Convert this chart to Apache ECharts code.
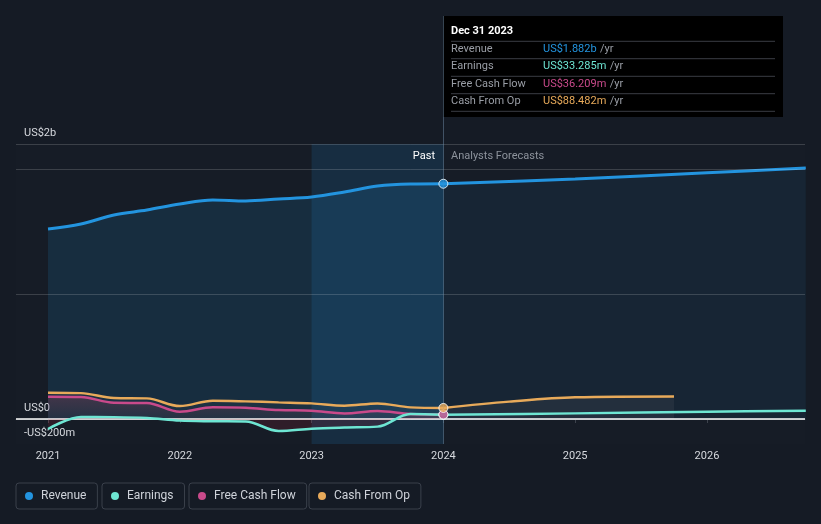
<!DOCTYPE html>
<html>
<head>
<meta charset="utf-8">
<script src="https://cdn.jsdelivr.net/npm/echarts@6/dist/echarts.min.js"></script>
<style>
html,body{margin:0;padding:0;background:#151b25;}
#c{width:821px;height:524px;}
</style>
</head>
<body>
<div id="c"></div>
<script>
// ---- data (values in US$ billions, x in decimal years) ----
var pastYears      = [2021.0, 2021.25, 2021.5, 2021.75, 2022.0, 2022.25, 2022.5, 2022.75, 2023.0, 2023.25, 2023.5, 2023.75, 2024.0];
var revenuePast    = [1.520, 1.560, 1.632, 1.672, 1.720, 1.752, 1.744, 1.760, 1.776, 1.816, 1.864, 1.880, 1.882];
var earningsPast   = [-0.080, 0.016, 0.015, 0.008, -0.013, -0.018, -0.020, -0.096, -0.078, -0.068, -0.061, 0.040, 0.033285];
var fcfPast        = [0.178, 0.176, 0.130, 0.128, 0.058, 0.094, 0.090, 0.072, 0.066, 0.045, 0.064, 0.040, 0.036209];
var cfoPast        = [0.211, 0.207, 0.168, 0.165, 0.104, 0.146, 0.141, 0.133, 0.125, 0.107, 0.125, 0.093, 0.088482];

var fcstYears      = [2024.0, 2025.0, 2026.0, 2026.75];
var revenueFcst    = [1.882, 1.920, 1.970, 2.008];
var earningsFcst   = [0.033285, 0.045, 0.058, 0.066];
var cfoFcstYears   = [2024.0, 2024.5, 2025.0, 2025.75];
var cfoFcst        = [0.088482, 0.139, 0.174, 0.181];

var xTicks         = [2021, 2022, 2023, 2024, 2025, 2026];
var yLabelValues   = [-0.2, 0, 2.2];
var yLabelTexts    = ['-US$200m', 'US$0', 'US$2b'];
var gridValues     = [2.2, 2.0, 1.0];
var pastBand       = [2023, 2024];

var tipTitle  = 'Dec 31 2023';
var tipLabels = ['Revenue', 'Earnings', 'Free Cash Flow', 'Cash From Op'];
var tipValues = ['US$1.882b', 'US$33.285m', 'US$36.209m', 'US$88.482m'];

var C = {rev:'#2394df', earn:'#6ee6d3', fcf:'#c94a8b', cfo:'#e8aa5a'};
var FONT = 'Roboto, "Noto Sans", sans-serif';

function pairs(xs, ys){ return xs.map(function(x,i){ return [x, ys[i]]; }); }
function last(xs, ys){ return [[xs[xs.length-1], ys[ys.length-1]]]; }

var chart = echarts.init(document.getElementById('c'), null, {renderer:'canvas'});

var series = [
  // helper: band, gridlines, crosshair
  { type:'line', data:[], silent:true, z:1,
    markArea:{ silent:true, itemStyle:{color:'rgba(35,148,223,0.15)'},
      data:[[{xAxis:pastBand[0]},{xAxis:pastBand[1]}]] },
    markLine:{ silent:true, symbol:'none', label:{show:false},
      data: gridValues.map(function(v){ return {yAxis:v, lineStyle:{color:'rgba(255,255,255,0.16)', width:1, type:'solid'}}; })
        .concat([{xAxis:pastBand[1], lineStyle:{color:'rgba(120,150,180,0.45)', width:1, type:'solid'}}])
    }
  },
  { name:'Revenue', type:'line', data:pairs(pastYears, revenuePast), smooth:0.35, symbol:'none', z:3,
    lineStyle:{color:C.rev, width:3}, itemStyle:{color:C.rev},
    areaStyle:{color:'rgba(35,148,223,0.2)', origin:0} },
  { name:'Revenue', type:'line', data:pairs(fcstYears, revenueFcst), smooth:0.35, symbol:'none', z:3,
    lineStyle:{color:C.rev, width:3}, itemStyle:{color:C.rev},
    areaStyle:{color:'rgba(35,148,223,0.11)', origin:0} },
  { name:'Cash From Op', type:'line', data:pairs(pastYears, cfoPast), smooth:0.35, symbol:'none', z:4,
    lineStyle:{color:C.cfo, width:2.5}, itemStyle:{color:C.cfo},
    areaStyle:{color:'rgba(120,120,120,0.10)', origin:0} },
  { name:'Cash From Op', type:'line', data:pairs(cfoFcstYears, cfoFcst), smooth:0.35, symbol:'none', z:4,
    lineStyle:{color:C.cfo, width:2.5}, itemStyle:{color:C.cfo},
    areaStyle:{color:'rgba(130,130,130,0.16)', origin:0} },
  { name:'Free Cash Flow', type:'line', data:pairs(pastYears, fcfPast), smooth:0.35, symbol:'none', z:5,
    lineStyle:{color:C.fcf, width:2.5}, itemStyle:{color:C.fcf},
    areaStyle:{origin:0, color:new echarts.graphic.LinearGradient(0,0,0,1,[
      {offset:0,color:'rgba(200,70,100,0.30)'},{offset:1,color:'rgba(200,70,100,0.06)'}])} },
  { name:'Earnings', type:'line', data:pairs(pastYears, earningsPast), smooth:0.35, symbol:'none', z:6,
    lineStyle:{color:C.earn, width:2.5}, itemStyle:{color:C.earn},
    areaStyle:{color:'rgba(220,40,60,0.18)', origin:0} },
  { name:'Earnings', type:'line', data:pairs(fcstYears, earningsFcst), smooth:0.35, symbol:'none', z:6,
    lineStyle:{color:C.earn, width:2.5}, itemStyle:{color:C.earn} },
  // zero line
  { type:'line', data:[], silent:true, z:7,
    markLine:{ silent:true, symbol:'none', label:{show:false},
      data:[{yAxis:0, lineStyle:{color:'#ffffff', width:1.5, type:'solid'}}] } },
  // highlighted points at the cursor date
  { name:'Earnings', type:'scatter', data:last(pastYears, earningsPast), symbolSize:9, z:8,
    itemStyle:{color:C.earn, borderColor:'#fff', borderWidth:1} },
  { name:'Free Cash Flow', type:'scatter', data:last(pastYears, fcfPast), symbolSize:9, z:8,
    itemStyle:{color:C.fcf, borderColor:'#fff', borderWidth:1} },
  { name:'Cash From Op', type:'scatter', data:last(pastYears, cfoPast), symbolSize:9, z:8,
    itemStyle:{color:C.cfo, borderColor:'#fff', borderWidth:1} },
  { name:'Revenue', type:'scatter', data:last(pastYears, revenuePast), symbolSize:9, z:8,
    itemStyle:{color:C.rev, borderColor:'#fff', borderWidth:1} }
];

function legendAt(name, left){
  return { data:[{name:name, icon:'circle'}], left:left, top:483, itemWidth:14, itemHeight:8,
    selectedMode:false, padding:[7,11,7,9], borderColor:'#3a404b', borderWidth:1, borderRadius:3,
    textStyle:{color:'#cfd3da', fontSize:12, fontFamily:FONT} };
}

var rows = [];
var rowY = [49.3, 66.7, 84.3, 101.7];
var sepY = [41.3, 58.7, 76.3, 93.7, 111.3];
var tipColors = [C.rev, C.earn, C.fcf, C.cfo];
sepY.forEach(function(y){
  rows.push({type:'line', shape:{x1:451, y1:y, x2:775, y2:y}, style:{stroke:'#3a3d44', lineWidth:1}});
});
tipLabels.forEach(function(l,i){
  rows.push({type:'text', x:451, y:rowY[i], style:{text:l, fill:'#9a9ea6', font:'11px '+FONT, verticalAlign:'middle'}});
  rows.push({type:'text', x:543, y:rowY[i], style:{
    text:'{v|'+tipValues[i]+'} {u|/yr}', verticalAlign:'middle',
    rich:{ v:{fill:tipColors[i], fontSize:11, fontFamily:FONT}, u:{fill:'#9a9ea6', fontSize:11, fontFamily:FONT} } }});
});

var option = {
  backgroundColor:'#151b25',
  animation:false,
  textStyle:{fontFamily:FONT},
  grid:{left:16, right:16, top:144, bottom:80, show:true, backgroundColor:'rgba(255,255,255,0.006)', borderWidth:0},
  xAxis:{ type:'value', min:2020.757, max:2026.744,
    axisLine:{show:true, lineStyle:{color:'#3d434d', width:1}},
    axisTick:{show:true, customValues:xTicks, length:4, lineStyle:{color:'#3d434d'}},
    axisLabel:{customValues:xTicks, color:'#d6d9de', fontSize:11, margin:7, formatter:function(v){return String(v);}},
    splitLine:{show:false} },
  yAxis:{ type:'value', min:-0.2, max:2.2, interval:0.2,
    axisLine:{show:false}, axisTick:{show:false}, splitLine:{show:false},
    axisLabel:{ inside:true, customValues:yLabelValues, margin:8, color:'#d6d9de', fontSize:11,
      verticalAlign:'bottom', padding:[0,0,5,0],
      formatter:function(v){ var i = yLabelValues.findIndex(function(t){return Math.abs(t-v)<1e-6;}); return i>=0 ? yLabelTexts[i] : ''; } } },
  legend:[ legendAt('Revenue',16), legendAt('Earnings',102), legendAt('Free Cash Flow',189), legendAt('Cash From Op',309) ],
  series:series,
  graphic:[
    {type:'line', shape:{x1:443.5, y1:16, x2:443.5, y2:144}, style:{stroke:'rgba(120,150,180,0.45)', lineWidth:1}, z:10},
    {type:'text', x:435, y:156, style:{text:'Past', fill:'#ffffff', font:'11px '+FONT, align:'right', verticalAlign:'middle'}, z:10},
    {type:'text', x:451, y:156, style:{text:'Analysts Forecasts', fill:'#8d939c', font:'11px '+FONT, verticalAlign:'middle'}, z:10},
    {type:'group', z:20, children:[
      {type:'rect', shape:{x:443, y:16, width:340, height:101}, style:{fill:'#000000'}},
      {type:'text', x:451, y:31, style:{text:tipTitle, fill:'#ffffff', font:'bold 11px '+FONT, verticalAlign:'middle'}}
    ].concat(rows)}
  ]
};
chart.setOption(option);
</script>
</body>
</html>
